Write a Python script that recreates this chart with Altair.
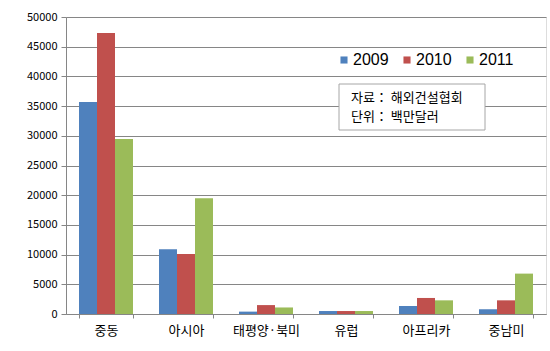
import altair as alt
import pandas as pd

regions = ["중동", "아시아", "태평양·북미", "유럽", "아프리카", "중남미"]
years = ["2009", "2010", "2011"]
v2009 = [35700, 10900, 400, 500, 1350, 800]
v2010 = [47300, 10100, 1500, 500, 2700, 2300]
v2011 = [29450, 19500, 1100, 500, 2300, 6800]
note_lines = ["자료： 해외건설협회", "단위： 백만달러"]
colors = ["#4F81BD", "#C0504D", "#9BBB59"]

rows = []
for i, r in enumerate(regions):
    for y, vals in zip(years, [v2009, v2010, v2011]):
        rows.append({"region": r, "year": y, "value": vals[i]})
df = pd.DataFrame(rows)

FONT = "Noto Sans CJK KR"

bars = alt.Chart(df).mark_bar().encode(
    x=alt.X("region:N", sort=regions, title=None,
            scale=alt.Scale(paddingInner=0.325, paddingOuter=0.1625),
            axis=alt.Axis(labelAngle=0, labelFontSize=13, labelColor="#000",
                          labelFont=FONT, labelPadding=6, tickBand="extent",
                          tickSize=4, tickColor="#868686", domainColor="#868686")),
    xOffset=alt.XOffset("year:N", sort=years),
    y=alt.Y("value:Q", title=None,
            scale=alt.Scale(domain=[0, 50000], nice=False),
            axis=alt.Axis(values=list(range(0, 50001, 5000)), format="d",
                          labelFontSize=11, labelColor="#000", labelFont=FONT,
                          gridColor="#868686", gridWidth=1, tickColor="#868686",
                          tickSize=5, domainColor="#868686", labelPadding=4)),
    color=alt.Color("year:N", sort=years, title=None,
                    scale=alt.Scale(domain=years, range=colors),
                    legend=alt.Legend(orient="none", legendX=270, legendY=35,
                                      direction="horizontal", symbolType="square",
                                      symbolSize=50, symbolStrokeWidth=0,
                                      labelFontSize=16, labelFont="Liberation Sans",
                                      labelColor="#000", columnPadding=10,
                                      labelOffset=1, padding=0)),
)

box = alt.Chart(pd.DataFrame({"a": [0]})).mark_rect(
    fill="white", stroke="#A6A6A6", strokeWidth=1
).encode(x=alt.value(273), x2=alt.value(419), y=alt.value(67), y2=alt.value(113))

notes = alt.Chart(pd.DataFrame({"t": note_lines, "yy": [81, 100]})).mark_text(
    align="left", baseline="middle", fontSize=13, font=FONT, color="#000"
).encode(x=alt.value(285), y=alt.Y("yy:Q", scale=None), text="t:N")

chart = alt.layer(bars, box, notes).properties(
    width=480, height=297,
    autosize=alt.AutoSizeParams(type="none"),
    padding={"left": 66, "top": 17, "right": 4, "bottom": 37},
).configure_view(stroke=None).configure(background="white")

chart.save("out.html", embed_options={"renderer": "svg", "actions": False})
